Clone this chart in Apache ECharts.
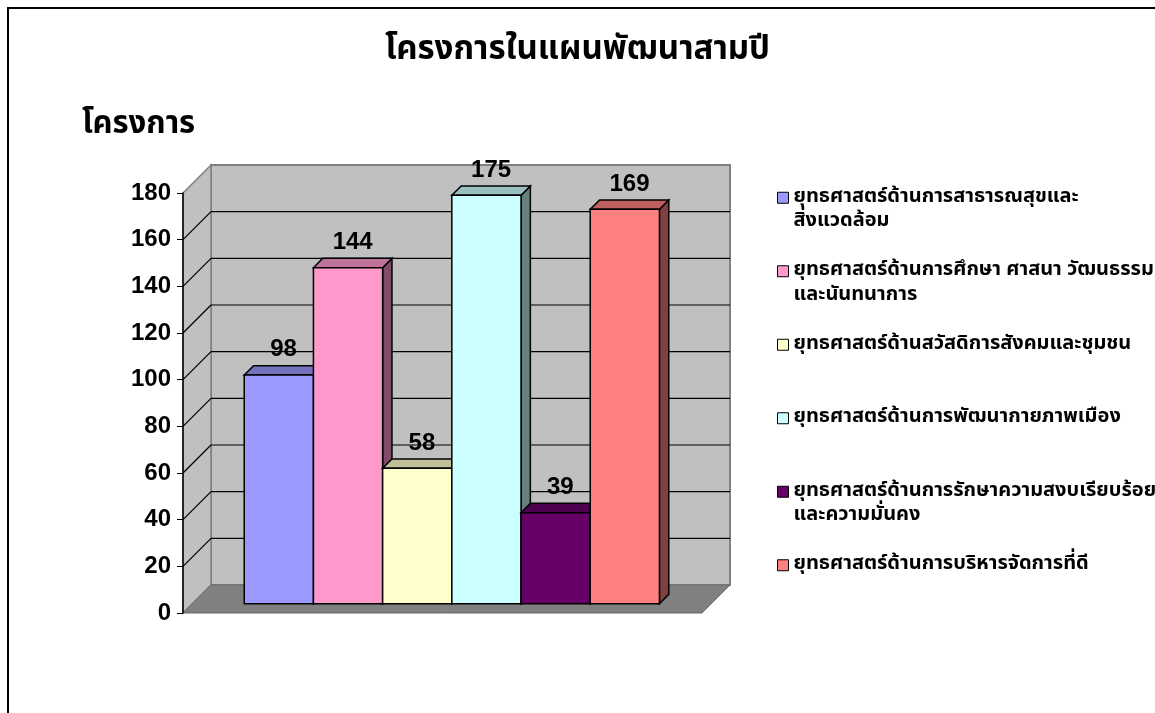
<!DOCTYPE html>
<html>
<head>
<meta charset="utf-8">
<title>โครงการในแผนพัฒนาสามปี</title>
<script src="https://cdn.jsdelivr.net/npm/echarts@6/dist/echarts.min.js"></script>
<style>
  html, body { margin: 0; padding: 0; background: #fff; }
  #chart { width: 1155px; height: 713px; }
</style>
</head>
<body>
<div id="chart"></div>
<script>
// one category, six strategies drawn side by side
const categories = [''];
const seriesNames = [
  'ยุทธศาสตร์ด้านการสาธารณสุขและ\nสิ่งแวดล้อม',
  'ยุทธศาสตร์ด้านการศึกษา ศาสนา วัฒนธรรม\nและนันทนาการ',
  'ยุทธศาสตร์ด้านสวัสดิการสังคมและชุมชน',
  'ยุทธศาสตร์ด้านการพัฒนากายภาพเมือง',
  'ยุทธศาสตร์ด้านการรักษาความสงบเรียบร้อย\nและความมั่นคง',
  'ยุทธศาสตร์ด้านการบริหารจัดการที่ดี'
];
const seriesValues = [98, 144, 58, 175, 39, 169];
const yTicks = [0, 20, 40, 60, 80, 100, 120, 140, 160, 180];

const faceColors = ['#9999FF', '#FF99CC', '#FFFFCC', '#CCFFFF', '#660066', '#FF8080'];
const topColors  = ['#7373BF', '#BF7399', '#BFBF99', '#99BFBF', '#4D004D', '#BF6060'];
const sideColors = ['#4D4D80', '#804D66', '#808066', '#668080', '#330033', '#804040'];

const DEPTH = 28;          // px offset of the back wall (3d look)
const THAI = '"Noto Sans Thai", Tahoma, "DejaVu Sans", sans-serif';
const NUM = '"Liberation Sans", Arial, sans-serif';

const chart = echarts.init(document.getElementById('chart'));

function renderWalls(params, api) {
  const base = api.coord([0, yTicks[0]]);
  const top = api.coord([0, yTicks[yTicks.length - 1]]);
  const band = api.size([1, 0])[0];
  const l = base[0] - band / 2, r = base[0] + band / 2;
  const y0 = base[1], y1 = top[1], d = DEPTH;
  const kids = [
    { type: 'polygon', shape: { points: [[l + d, y1 - d], [r + d, y1 - d], [r + d, y0 - d], [l + d, y0 - d]] },
      style: { fill: '#C0C0C0', stroke: '#808080', lineWidth: 2 } },
    { type: 'polygon', shape: { points: [[l, y0], [l, y1], [l + d, y1 - d], [l + d, y0 - d]] },
      style: { fill: '#C0C0C0', stroke: '#808080', lineWidth: 1.5 } },
    { type: 'polygon', shape: { points: [[l, y0], [r, y0], [r + d, y0 - d], [l + d, y0 - d]] },
      style: { fill: '#808080', stroke: '#6a6a6a', lineWidth: 1 } }
  ];
  yTicks.slice(1, -1).forEach(function (t) {
    const y = api.coord([0, t])[1];
    kids.push({ type: 'line', shape: { x1: l + d, y1: y - d, x2: r + d, y2: y - d }, style: { stroke: '#000', lineWidth: 1.2 } });
    kids.push({ type: 'line', shape: { x1: l, y1: y, x2: l + d, y2: y - d }, style: { stroke: '#000', lineWidth: 1.2 } });
  });
  return { type: 'group', children: kids };
}

function barRenderer(i) {
  return function (params, api) {
    const v = api.value(1);
    const base = api.coord([0, 0]);
    const top = api.coord([0, v]);
    const band = api.size([1, 0])[0];
    const w = band * 0.8 / seriesValues.length;
    const d = DEPTH / 3;
    const x0 = base[0] - band * 0.4 + i * w + d;
    const x1 = x0 + w;
    const yb = base[1] - d;
    const yt = top[1] - d;
    const edge = { stroke: '#000', lineWidth: 1.5 };
    return {
      type: 'group',
      children: [
        { type: 'polygon', z2: i * 3,
          shape: { points: [[x1, yb], [x1, yt], [x1 + d, yt - d], [x1 + d, yb - d]] },
          style: Object.assign({ fill: sideColors[i] }, edge) },
        { type: 'polygon', z2: i * 3 + 1,
          shape: { points: [[x0, yt], [x1, yt], [x1 + d, yt - d], [x0 + d, yt - d]] },
          style: Object.assign({ fill: topColors[i] }, edge) },
        { type: 'rect', z2: i * 3 + 2,
          shape: { x: x0, y: yt, width: w, height: yb - yt },
          style: Object.assign({ fill: faceColors[i] }, edge) },
        { type: 'text', z2: 100,
          style: { text: String(v), x: x0 + w / 2 + d / 2, y: yt - d - 4,
            align: 'center', verticalAlign: 'bottom', fill: '#000',
            font: 'bold 24px ' + NUM } }
      ]
    };
  };
}

const series = [{
  type: 'custom', z: 1, silent: true,
  renderItem: renderWalls,
  data: [[0, 0]]
}];
seriesNames.forEach(function (name, i) {
  series.push({
    type: 'custom', name: name, z: 2,
    itemStyle: { color: faceColors[i] },
    renderItem: barRenderer(i),
    encode: { x: 0, y: 1 },
    data: [[0, seriesValues[i]]]
  });
});

chart.setOption({
  animation: false,
  graphic: [{
    type: 'rect', shape: { x: 8, y: 8, width: 1300, height: 900 },
    style: { fill: 'none', stroke: '#000', lineWidth: 2 }
  }],
  title: [{
    text: 'โครงการในแผนพัฒนาสามปี',
    left: 'center', top: 31,
    padding: [5, 5, 5, 19],
    textStyle: { fontFamily: THAI, fontSize: 33, fontWeight: 'bold', color: '#000' }
  }, {
    text: 'โครงการ',
    left: 77, top: 106,
    textStyle: { fontFamily: THAI, fontSize: 31, fontWeight: 'bold', color: '#000' }
  }],
  legend: {
    orient: 'vertical',
    left: 777, top: 161,
    padding: 0, itemGap: 0,
    itemWidth: 11, itemHeight: 11,
    icon: 'rect',
    itemStyle: { borderColor: '#000', borderWidth: 1 },
    data: seriesNames,
    // blank first line keeps the square level with the first text line
    formatter: function (name) {
      return ' \n' + (name.indexOf('\n') >= 0 ? name : name + '\n ');
    },
    textStyle: { fontFamily: THAI, fontSize: 20, fontWeight: 'bold', color: '#000', lineHeight: 24.5 }
  },
  grid: { left: 183, right: 453, top: 193, bottom: 100 },
  xAxis: { type: 'category', data: categories, show: false },
  yAxis: {
    type: 'value', min: 0, max: 180, interval: 20, z: 5,
    axisLine: { show: true, lineStyle: { color: '#000', width: 1.5 } },
    axisTick: { show: true, length: 6, lineStyle: { color: '#000' } },
    axisLabel: { fontFamily: NUM, fontSize: 24, fontWeight: 'bold', color: '#000', margin: 12 },
    splitLine: { show: false }
  },
  series: series
});
</script>
</body>
</html>
